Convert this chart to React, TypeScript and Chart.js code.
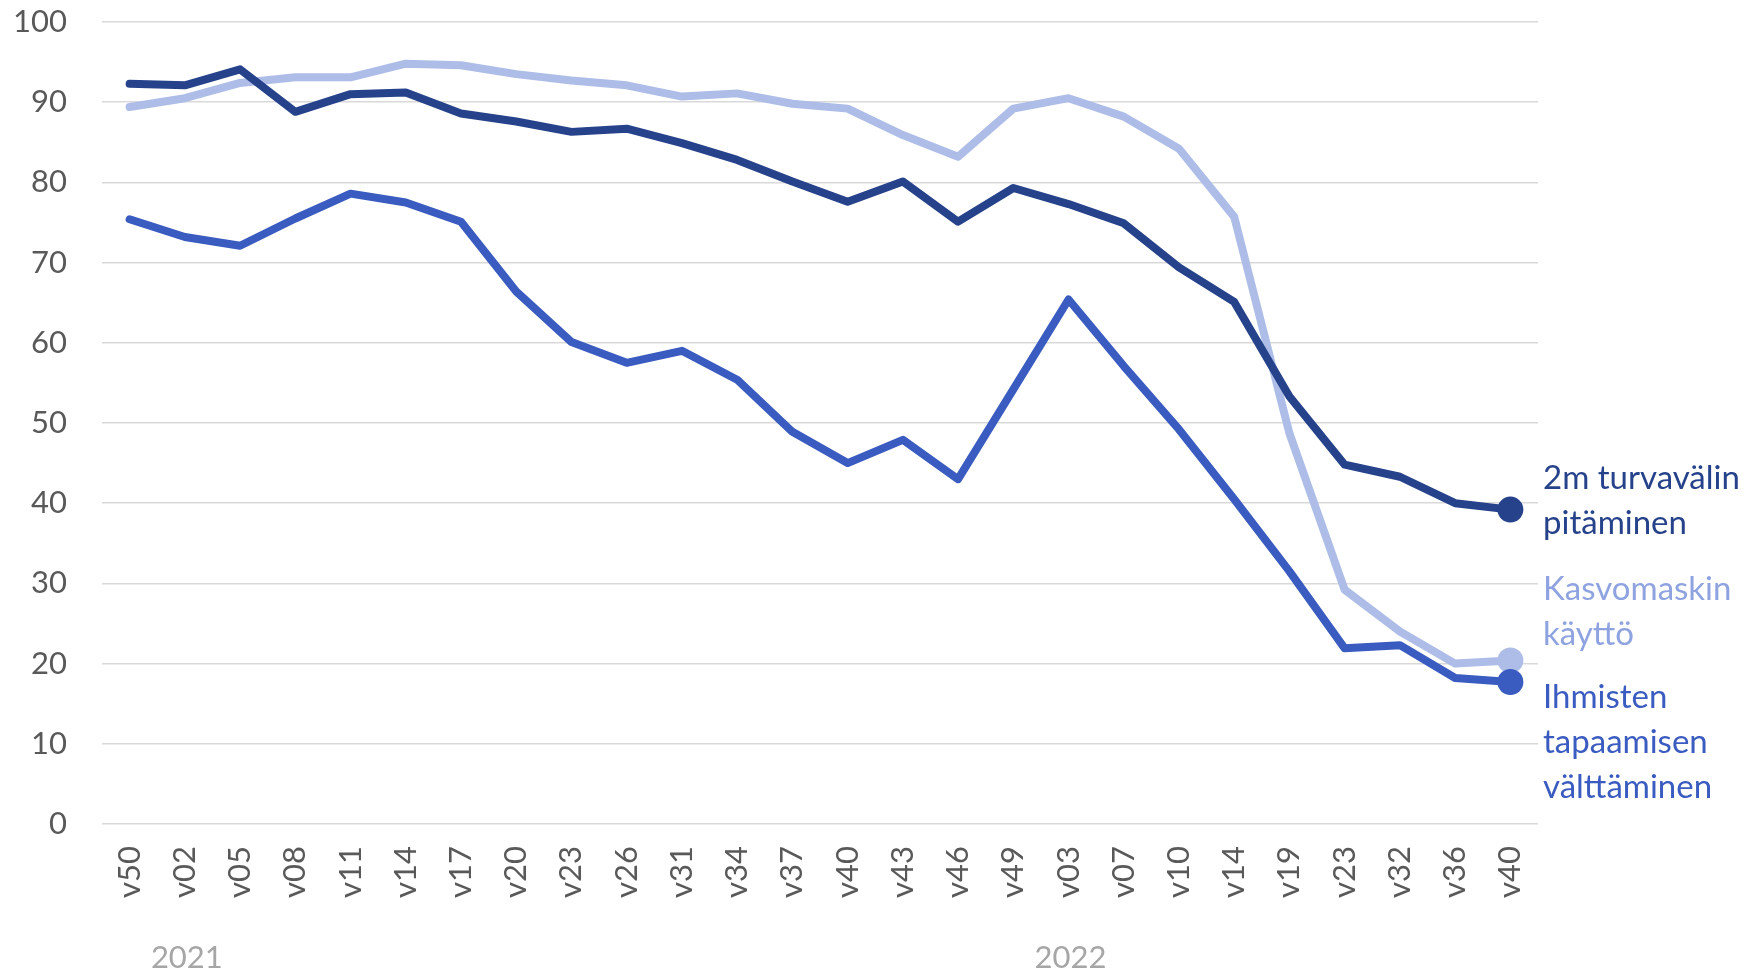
import React, { useEffect, useRef } from "react";
import { Chart, registerables } from "chart.js";

Chart.register(...registerables);

const weeks = ["v50","v02","v05","v08","v11","v14","v17","v20","v23","v26","v31","v34","v37","v40","v43","v46","v49","v03","v07","v10","v14","v19","v23","v32","v36","v40"];

const turvavali = [92.3, 92.1, 94.1, 88.8, 91.0, 91.2, 88.6, 87.6, 86.3, 86.7, 84.9, 82.8, 80.1, 77.6, 80.1, 75.1, 79.3, 77.3, 74.9, 69.4, 65.1, 53.3, 44.8, 43.3, 40.0, 39.2];
const ihmisten = [75.4, 73.2, 72.1, 75.5, 78.6, 77.5, 75.1, 66.4, 60.1, 57.5, 59.0, 55.4, 48.9, 45.0, 47.9, 43.0, 54.2, 65.4, 57.1, 49.2, 40.5, 31.5, 21.9, 22.3, 18.2, 17.7];
const kasvomaski = [89.4, 90.5, 92.4, 93.1, 93.1, 94.8, 94.6, 93.5, 92.7, 92.1, 90.7, 91.1, 89.8, 89.2, 85.9, 83.2, 89.2, 90.5, 88.2, 84.2, 75.7, 48.7, 29.2, 24.0, 20.0, 20.4];

const yearNames = ["2021", "2022"];
const yearStartIndex = [1, 17];

const seriesLines = [
  ["2m turvavälin", "pitäminen"],
  ["Ihmisten", "tapaamisen", "välttäminen"],
  ["Kasvomaskin", "käyttö"],
];
const lineColors = ["#26428b", "#3a5bc0", "#adbde7"];
const labelColors = ["#26428b", "#3a5bc0", "#8ea3e0"];
// value at which first line of each end label is centred
const labelTopValues = [43.1, 15.8, 29.3];

const endLabels = {
  id: "endLabels",
  afterDraw(chart: any) {
    const ctx = chart.ctx;
    const ys = chart.scales.y;
    const xs = chart.scales.x;
    ctx.save();
    ctx.font = "33px Lato";
    ctx.textBaseline = "middle";
    ctx.textAlign = "left";
    seriesLines.forEach((lines, i) => {
      ctx.fillStyle = labelColors[i];
      const y0 = ys.getPixelForValue(labelTopValues[i]);
      lines.forEach((ln, j) => ctx.fillText(ln, chart.chartArea.right + 5, y0 + j * 45));
    });
    ctx.font = "31px Lato";
    ctx.fillStyle = "#a6a6a6";
    ctx.textAlign = "center";
    yearNames.forEach((n, i) => {
      ctx.fillText(n, xs.getPixelForValue(yearStartIndex[i]) + 2, chart.height - 13);
    });
    ctx.restore();
  },
};

const lastOnly = (n: number, r: number) => weeks.map((_, i) => (i === n - 1 ? r : 0));

export default function App() {
  const ref = useRef<HTMLCanvasElement>(null);
  useEffect(() => {
    document.body.style.margin = "0";
    const series = [turvavali, ihmisten, kasvomaski];
    const chart = new Chart(ref.current!, {
      type: "line",
      data: {
        labels: weeks,
        datasets: series.map((d, i) => ({
          data: d,
          borderColor: lineColors[i],
          backgroundColor: lineColors[i],
          borderWidth: 8,
          borderJoinStyle: "round" as const,
          borderCapStyle: "round" as const,
          pointRadius: lastOnly(d.length, 13),
          pointBorderWidth: 0,
          pointHoverRadius: 0,
          tension: 0,
        })),
      },
      options: {
        animation: false,
        responsive: false,
        layout: { padding: { top: 22, right: 208, left: 0, bottom: 0 } },
        plugins: { legend: { display: false }, tooltip: { enabled: false } },
        scales: {
          x: {
            offset: true,
            grid: { display: false, drawTicks: false },
            border: { display: false },
            ticks: {
              autoSkip: false,
              maxRotation: 90,
              minRotation: 90,
              padding: 22,
              color: "#595959",
              font: { family: "Lato", size: 31 },
            },
            afterFit: (s: any) => { s.height = 147; },
          },
          y: {
            min: 0,
            max: 100,
            grid: { color: "#d9d9d9", lineWidth: 1.5, drawTicks: false },
            border: { display: false },
            ticks: {
              stepSize: 10,
              padding: 35,
              color: "#595959",
              font: { family: "Lato", size: 31 },
            },
            afterFit: (s: any) => {
              s.width = 102;
              s.paddingTop = 0;
              s.paddingBottom = 0;
            },
          },
        },
      },
      plugins: [endLabels],
    });
    document.fonts?.load("31px Lato").then(() => chart.update());
    return () => chart.destroy();
  }, []);
  return <canvas ref={ref} width={1746} height={971} style={{ display: "block" }} />;
}
